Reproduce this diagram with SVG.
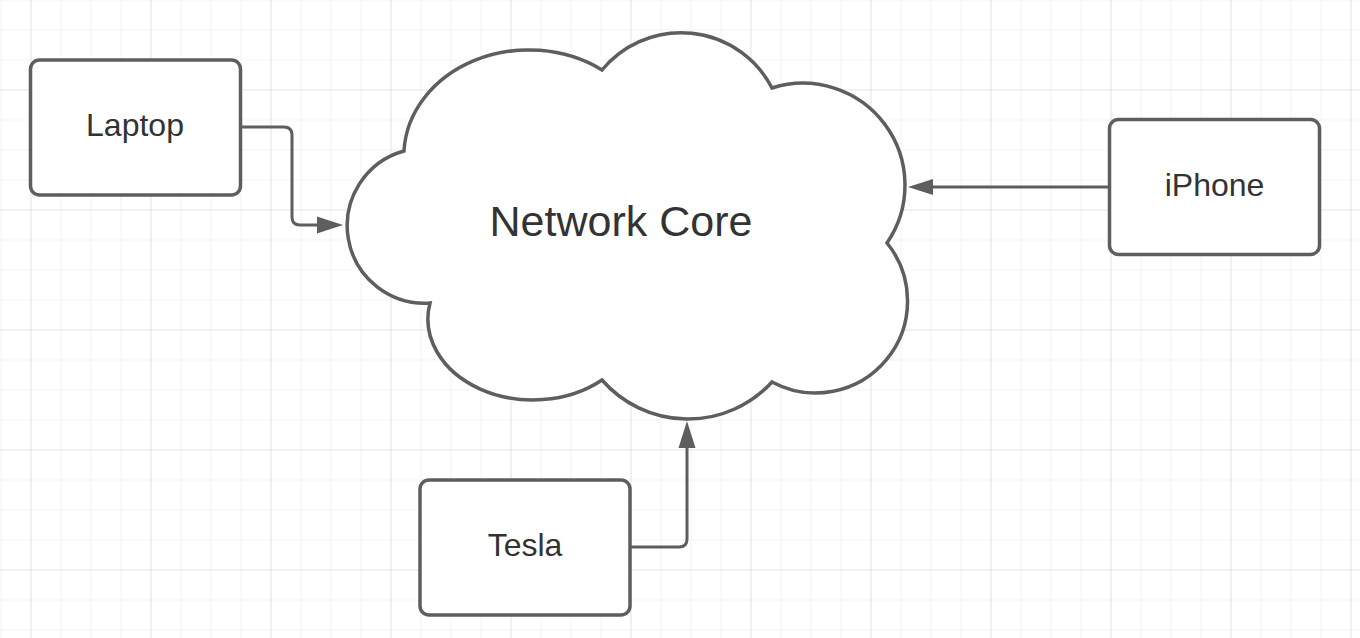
<svg xmlns="http://www.w3.org/2000/svg" width="1360" height="638" viewBox="0 0 1360 638">
  <defs>
    <pattern id="minor" x="0.5" y="29.5" width="30" height="30" patternUnits="userSpaceOnUse">
      <path d="M0 0 V30 M0 0 H30" fill="none" stroke="#ebebeb" stroke-width="1.2"/>
    </pattern>
    <pattern id="major" x="30.5" y="89.5" width="120" height="120" patternUnits="userSpaceOnUse">
      <path d="M0 0 V120 M0 0 H120" fill="none" stroke="#dcdcdc" stroke-width="1.2"/>
    </pattern>
    <style>
      .box { fill: #ffffff; stroke: #5e5e5e; stroke-width: 3.5; }
      .cloud { fill: #ffffff; stroke: #5e5e5e; stroke-width: 3.5; stroke-linejoin: miter; }
      .lbl { font-family: "Liberation Sans", Arial, sans-serif; font-size: 32px; fill: #333333; text-anchor: middle; }
      .big { font-size: 43px; }
      .conn { fill: none; stroke: #5e5e5e; stroke-width: 3; }
      .head { fill: #5e5e5e; stroke: none; }
    </style>
  </defs>
  <rect width="1360" height="638" fill="#ffffff"/>
  <rect width="1360" height="638" fill="url(#minor)"/>
  <rect width="1360" height="638" fill="url(#major)"/>

  <g id="connectors">
    <path class="conn" d="M241 127 H284 Q292 127 292 135 V217 Q292 225 300 225 H320"/>
    <path class="head" d="M343 225 L317 216.5 L317 233.5 Z"/>
    <path class="conn" d="M1108 187 H930"/>
    <path class="head" d="M908 187 L933 179 L933 195 Z"/>
    <path class="conn" d="M631 547 H679 Q687 547 687 539 V445"/>
    <path class="head" d="M687 421 L678.5 448 L695.5 448 Z"/>
  </g>

  <g id="laptop">
    <rect class="box" x="30.5" y="60" width="210" height="135" rx="9"/>
    <text class="lbl" x="135" y="136">Laptop</text>
  </g>

  <g id="iphone">
    <rect class="box" x="1109.5" y="119.5" width="210" height="135" rx="9"/>
    <text class="lbl" x="1214.5" y="196">iPhone</text>
  </g>

  <g id="tesla">
    <rect class="box" x="420" y="480" width="210" height="135" rx="9"/>
    <text class="lbl" x="525" y="556">Tesla</text>
  </g>

  <g id="network-core">
    <path class="cloud" d="M404 151 A125 106 0 0 1 602 70 A102.5 102.5 0 0 1 772 88 A102 102 0 0 1 887 243 A92 92 0 0 1 772 382 A114 114 0 0 1 602 380 A105 81 0 0 1 430 303 A77.5 77.5 0 0 1 404 151 Z"/>
    <text class="lbl big" x="621" y="236">Network Core</text>
  </g>
</svg>
